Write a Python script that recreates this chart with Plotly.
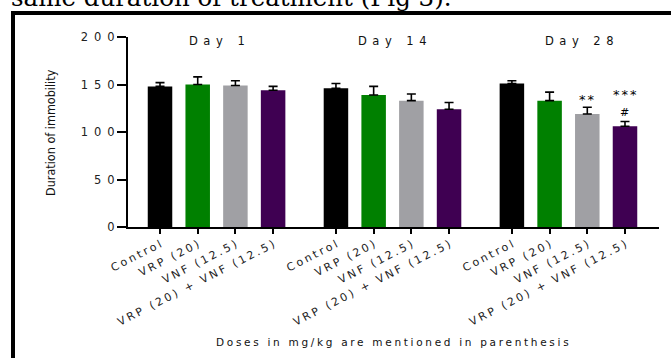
import plotly.graph_objects as go

# ---------------- data ----------------
days = ["Day 1", "Day 14", "Day 28"]
groups = ["Control", "VRP (20)", "VNF (12.5)", "VRP (20) + VNF (12.5)"]
colors = ["#000000", "#008000", "#A0A0A4", "#3F0052"]

control_mean = [148, 146, 151]
vrp_mean = [150, 139, 133]
vnf_mean = [149, 133, 119]
combo_mean = [144, 124, 106]

control_err = [4, 5, 3]
vrp_err = [8, 9, 9]
vnf_err = [5, 7, 7]
combo_err = [4, 7, 5]

y_ticks = [0, 50, 100, 150, 200]

# significance marks: (day index, group index, label)
sig_marks = [(2, 2, "**"), (2, 3, "#"), (2, 3, "***")]

y_title = "Duration of immobility"
note = "Doses in mg/kg are mentioned in parenthesis"
top_text = "same duration of treatment (Fig 3)."

# ---------------- layout helpers ----------------
means = [control_mean, vrp_mean, vnf_mean, combo_mean]
errs = [control_err, vrp_err, vnf_err, combo_err]
GAP = 0.667
n = len(groups)


def pos(d, g):
    return d * (n + GAP) + g


def spaced(text, ls, extra=""):
    if len(text) < 2:
        return text
    return '<span style="letter-spacing:%spx%s">%s</span>%s' % (ls, extra, text[:-1], text[-1])


# pixel -> paper helpers (plot area: x 128..659, y 37..227)
L, R, T, B = 128, 12, 37, 131
PW, PH = 671 - L - R, 358 - T - B


def px(x):
    return (x - L) / PW


def py(y):
    return (T + PH - y) / PH


fig = go.Figure()
for g in range(n):
    fig.add_trace(go.Bar(
        x=[pos(d, g) for d in range(len(days))],
        y=means[g],
        width=0.65,
        marker=dict(color=colors[g], line=dict(width=0)),
        error_y=dict(type="data", array=errs[g], arrayminus=[0] * len(days),
                     symmetric=False, color="#000000", thickness=1.6, width=4.5),
        name=groups[g],
        showlegend=False,
        hoverinfo="skip",
    ))

tickvals = [pos(d, g) for d in range(len(days)) for g in range(n)]
ticktext = [spaced(groups[g], 2.6) for d in range(len(days)) for g in range(n)]

annotations = []
day_xshift = [0, 0, 11]
for d, day in enumerate(days):
    annotations.append(dict(
        x=pos(d, (n - 1) / 2), y=195.5, xref="x", yref="y",
        text=spaced(day, 5.5), showarrow=False, xshift=day_xshift[d],
        font=dict(family="DejaVu Sans", size=11.5, color="#111111"),
        xanchor="center", yanchor="middle"))

sig_shift = {"**": 8, "***": 27, "#": 9}
for d, g, lab in sig_marks:
    top = means[g][d] + errs[g][d]
    annotations.append(dict(
        x=pos(d, g), y=top, xref="x", yref="y",
        text=spaced(lab, 2, ";fill:#000000") if len(lab) > 1 else lab,
        showarrow=False, yanchor="middle", xanchor="center", yshift=sig_shift[lab],
        font=dict(family="DejaVu Sans", size=13 if lab != "#" else 11, color="#000000")))

annotations.append(dict(
    x=px(50), y=py(133), xref="paper", yref="paper", text=y_title, textangle=-90,
    showarrow=False, xanchor="center", yanchor="middle",
    font=dict(family="DejaVu Sans Condensed, Liberation Sans", size=12.5, color="#111111")))

annotations.append(dict(
    x=px(392), y=py(342), xref="paper", yref="paper", text=spaced(note, 2.7),
    showarrow=False, xanchor="center", yanchor="middle",
    font=dict(family="DejaVu Sans", size=10.5, color="#111111")))

annotations.append(dict(
    x=px(9), y=py(14), xref="paper", yref="paper", text=top_text,
    showarrow=False, xanchor="left", yanchor="bottom",
    font=dict(family="DejaVu Serif", size=24.5, color="#000000")))

shapes = [
    dict(type="line", xref="paper", yref="paper", x0=px(11), x1=px(700), y0=py(13), y1=py(13),
         line=dict(color="#000000", width=4)),
    dict(type="line", xref="paper", yref="paper", x0=px(13), x1=px(13), y0=py(11), y1=py(400),
         line=dict(color="#000000", width=4)),
]

fig.update_layout(
    width=671, height=358,
    margin=dict(l=L, r=R, t=T, b=B, autoexpand=False),
    paper_bgcolor="#FFFFFF", plot_bgcolor="#FFFFFF",
    barmode="overlay", showlegend=False, hovermode=False,
    annotations=annotations, shapes=shapes,
    xaxis=dict(range=[-0.849, 13.236], tickvals=tickvals, ticktext=ticktext, tickangle=-27,
               showline=True, linewidth=2, linecolor="#000000", ticks="outside", ticklen=5,
               tickwidth=2, tickcolor="#000000", showgrid=False, zeroline=False,
               tickfont=dict(family="DejaVu Sans", size=11, color="#222222"), automargin=False),
    yaxis=dict(range=[0, 200], tickvals=y_ticks, ticktext=[spaced(str(v), 6) for v in y_ticks],
               showline=True, linewidth=2, linecolor="#000000", ticks="outside", ticklen=9,
               tickwidth=2, tickcolor="#000000", showgrid=False, zeroline=False,
               tickfont=dict(family="DejaVu Sans", size=11.5, color="#222222"), automargin=False),
)

fig.write_html(
    "out.html",
    config={"displayModeBar": False, "staticPlot": True},
    post_script="document.body.style.margin='0';document.body.style.overflow='hidden';",
)
